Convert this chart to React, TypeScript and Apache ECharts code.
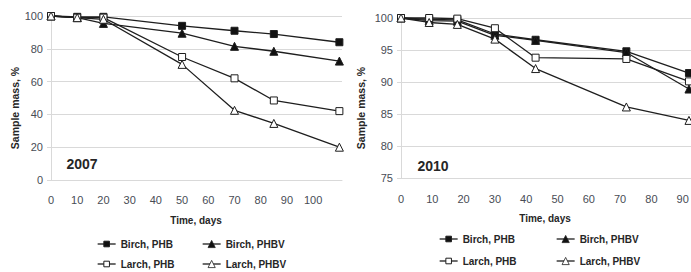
import React, { useEffect, useRef } from "react";
import * as echarts from "echarts";

// 2007 panel
const days2007 = [0, 10, 20, 50, 70, 85, 110];
const birchPhb2007 = [100, 99.5, 99.5, 94, 91, 89, 84];
const birchPhbv2007 = [100, 99, 95.5, 89.5, 81.5, 78.5, 72.5];
const larchPhb2007 = [100, 99, 99, 75, 62, 48.5, 42];
const larchPhbv2007 = [100, 99, 98, 70.5, 42.5, 34.5, 20];

// 2010 panel
const days2010 = [0, 9, 18, 30, 43, 72, 92];
const birchPhb2010 = [100, 99.8, 99.7, 97.5, 96.6, 94.8, 91.4];
const birchPhbv2010 = [100, 99.6, 99.5, 97.3, 96.5, 94.6, 88.9];
const larchPhb2010 = [100, 100, 99.9, 98.4, 93.8, 93.6, 90.1];
const larchPhbv2010 = [100, 99.3, 99, 96.7, 92.1, 86.1, 84.0];

const seriesNames = ["Birch, PHB", "Birch, PHBV", "Larch, PHB", "Larch, PHBV"];
const yTitle = "Sample mass, %";
const xTitle = "Time, days";
const panelLabels = ["2007", "2010"];

const FONT = "'Liberation Sans', Arial, sans-serif";
const LINE = "#1e1e1e";
const GRID = "#d9d9d9";
const LABEL = "#484c55";
const TITLE = "#262626";

const styles = [
  { symbol: "rect", size: 7, fill: "#111" },
  { symbol: "triangle", size: 8, fill: "#111" },
  { symbol: "rect", size: 7, fill: "#fff" },
  { symbol: "triangle", size: 8, fill: "#fff" },
];

function mk(name: string, idx: number, days: number[], vals: number[], axis: number) {
  const s = styles[idx];
  return {
    type: "line",
    name,
    xAxisIndex: axis,
    yAxisIndex: axis,
    data: days.map((d, i) => [d, vals[i]]),
    symbol: s.symbol,
    symbolSize: s.size,
    showAllSymbol: true,
    clip: false,
    lineStyle: { color: LINE, width: 1.3 },
    itemStyle: { color: s.fill, borderColor: LINE, borderWidth: 1 },
    emphasis: { disabled: true },
  };
}

export default function App() {
  const ref = useRef<HTMLDivElement>(null);
  useEffect(() => {
    if (!ref.current) return;
    const chart = echarts.init(ref.current, null, { renderer: "svg" });
    const xAxisBase = {
      type: "value",
      interval: 10,
      min: 0,
      axisLine: { show: true, lineStyle: { color: GRID, width: 1 } },
      axisTick: { show: false },
      splitLine: { show: false },
      axisLabel: {
        color: LABEL,
        fontFamily: FONT,
        fontSize: 11,
        margin: 14,
        showMaxLabel: true,
      },
    };
    const yAxisBase = {
      type: "value",
      axisLine: { show: true, lineStyle: { color: GRID, width: 1 } },
      axisTick: { show: true, length: 4, lineStyle: { color: GRID } },
      splitLine: { show: true, lineStyle: { color: GRID, width: 1 } },
      axisLabel: { color: LABEL, fontFamily: FONT, fontSize: 11, margin: 8 },
    };
    const legendPos = [
      [98, 244],
      [203, 244],
      [98, 264],
      [203, 264],
      [440, 239],
      [557, 239],
      [440, 261],
      [557, 261],
    ];
    const legends = legendPos.map((p, i) => {
      const k = i % 4;
      const tri = styles[k].symbol === "triangle";
      return {
        data: [seriesNames[k]],
        left: p[0] - 1,
        top: p[1] - 6,
        padding: 0,
        itemWidth: 18,
        itemHeight: tri ? 9 : 7,
        itemStyle: { color: styles[k].fill, borderColor: LINE, borderWidth: tri ? 0.8 : 1 },
        lineStyle: { color: LINE, width: 1.3 },
        selectedMode: false,
        textStyle: { fontFamily: FONT, fontSize: 10, fontWeight: "bold", color: TITLE, lineHeight: 12 },
      };
    });
    const txt = (text: string, x: number, y: number, size: number, rot = 0) => ({
      type: "text",
      x,
      y,
      rotation: rot,
      style: {
        text,
        fill: TITLE,
        font: `bold ${size}px ${FONT}`,
        textAlign: "center",
        textVerticalAlign: "middle",
      },
    });
    chart.setOption({
      animation: false,
      grid: [
        { left: 51, top: 16, width: 291, height: 164, outerBoundsMode: "none", containLabel: false },
        { left: 401, top: 18, width: 313, height: 160, outerBoundsMode: "none", containLabel: false },
      ],
      xAxis: [
        {
          ...xAxisBase,
          gridIndex: 0,
          max: 111,
          axisLabel: {
            ...xAxisBase.axisLabel,
            formatter: (v: number) => (v % 10 === 0 && v <= 100 ? String(v) : ""),
          },
        },
        {
          ...xAxisBase,
          gridIndex: 1,
          max: 100,
          axisLabel: {
            ...xAxisBase.axisLabel,
            margin: 15,
            formatter: (v: number) => (v <= 90 ? String(v) : ""),
          },
        },
      ],
      yAxis: [
        { ...yAxisBase, gridIndex: 0, min: 0, max: 100, interval: 20 },
        { ...yAxisBase, gridIndex: 1, min: 75, max: 100, interval: 5 },
      ],
      legend: legends,
      graphic: [
        txt(yTitle, 15, 108, 10.5, Math.PI / 2),
        txt(yTitle, 361, 108, 10.5, Math.PI / 2),
        txt(panelLabels[0], 82, 164, 14),
        txt(panelLabels[1], 433, 166, 14),
        txt(xTitle, 196, 220, 10),
        txt(xTitle, 545, 218, 10),
      ],
      series: [
        mk(seriesNames[0], 0, days2007, birchPhb2007, 0),
        mk(seriesNames[1], 1, days2007, birchPhbv2007, 0),
        mk(seriesNames[2], 2, days2007, larchPhb2007, 0),
        mk(seriesNames[3], 3, days2007, larchPhbv2007, 0),
        mk(seriesNames[0], 0, days2010, birchPhb2010, 1),
        mk(seriesNames[1], 1, days2010, birchPhbv2010, 1),
        mk(seriesNames[2], 2, days2010, larchPhb2010, 1),
        mk(seriesNames[3], 3, days2010, larchPhbv2010, 1),
      ],
    });
    return () => chart.dispose();
  }, []);
  return (
    <div
      ref={ref}
      style={{
        position: "fixed",
        left: 0,
        top: 0,
        width: 691,
        height: 272,
        overflow: "hidden",
        background: "#fff",
      }}
    />
  );
}
